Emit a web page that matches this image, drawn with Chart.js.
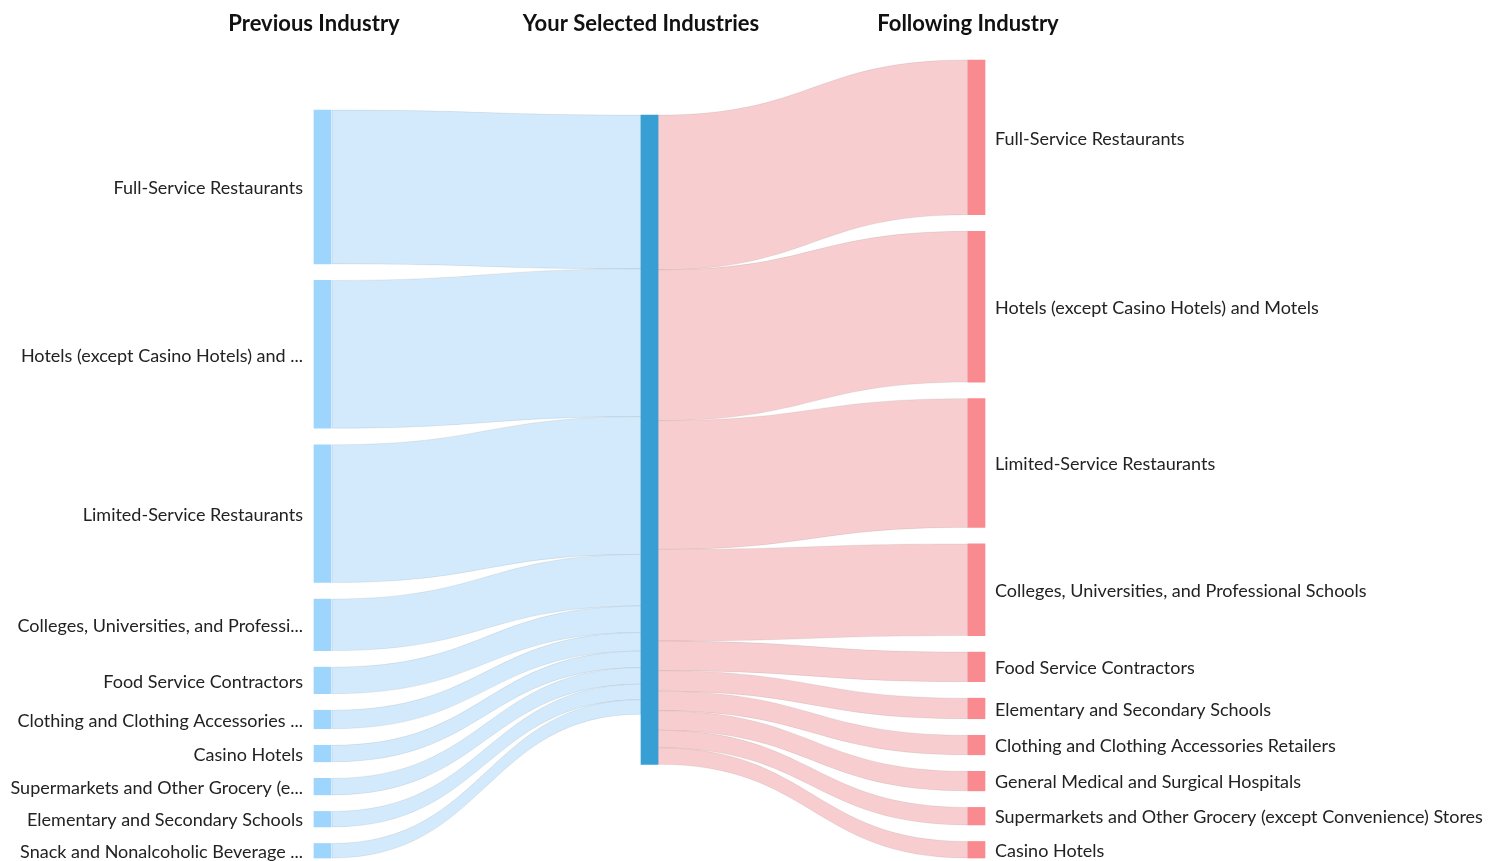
<!DOCTYPE html>
<html>
<head>
<meta charset="utf-8">
<title>Industry flows</title>
<script src="https://cdn.jsdelivr.net/npm/chart.js@4.4.1/dist/chart.umd.min.js"></script>
<style>
  html, body { margin: 0; padding: 0; background: #fff; }
  #wrap { width: 1503px; height: 861px; position: relative; }
</style>
</head>
<body>
<div id="wrap"><canvas id="sankey"></canvas></div>
<script>
// column headings
const columnTitles = ["Previous Industry", "Your Selected Industries", "Following Industry"];

// industries people came from
const prevLabels = [
  "Full-Service Restaurants",
  "Hotels (except Casino Hotels) and Motels",
  "Limited-Service Restaurants",
  "Colleges, Universities, and Professional Schools",
  "Food Service Contractors",
  "Clothing and Clothing Accessories Retailers",
  "Casino Hotels",
  "Supermarkets and Other Grocery (except Convenience) Stores",
  "Elementary and Secondary Schools",
  "Snack and Nonalcoholic Beverage Bars"
];
const prevValues = [153.5, 147.5, 137.5, 51.5, 26.5, 18.5, 16.5, 16.5, 15.5, 14.5];

// industries people went to
const nextLabels = [
  "Full-Service Restaurants",
  "Hotels (except Casino Hotels) and Motels",
  "Limited-Service Restaurants",
  "Colleges, Universities, and Professional Schools",
  "Food Service Contractors",
  "Elementary and Secondary Schools",
  "Clothing and Clothing Accessories Retailers",
  "General Medical and Surgical Hospitals",
  "Supermarkets and Other Grocery (except Convenience) Stores",
  "Casino Hotels"
];
const nextValues = [154.5, 150.5, 128.5, 91.5, 29.5, 20.5, 19.5, 19.5, 17.5, 16.5];

// layout settings
const NODE_GAP = 16.5;   // value units between stacked nodes
const MID_TOP = 55;      // where the selected-industry node starts
const NODE_W = 17;       // node width in px
const LABEL_MAX = 294;   // left labels get cut to this width

const sum = a => a.reduce((s, v) => s + v, 0);
function stackColumn(values, start) {
  let y = start;
  return values.map(v => {
    const seg = [y, y + v];
    y += v + NODE_GAP;
    return seg;
  });
}

const prevSpan = sum(prevValues) + NODE_GAP * (prevValues.length - 1);
const nextSpan = sum(nextValues) + NODE_GAP * (nextValues.length - 1);
const yMax = Math.max(prevSpan, nextSpan);

const prevNodes = stackColumn(prevValues, yMax - prevSpan);
const nextNodes = stackColumn(nextValues, yMax - nextSpan);
const midNode = [MID_TOP, MID_TOP + Math.max(sum(prevValues), sum(nextValues))];

// where each link meets the middle node
function stackOnMiddle(values) {
  let y = MID_TOP;
  return values.map(v => { const seg = [y, y + v]; y += v; return seg; });
}
const midIn = stackOnMiddle(prevValues);
const midOut = stackOnMiddle(nextValues);

// links between columns
const linkPlugin = {
  id: "sankeyLinks",
  beforeDatasetsDraw(chart) {
    const { ctx, scales: { x, y } } = chart;
    const half = NODE_W / 2;

    function band(x0, s0, x1, s1, fill) {
      const xm = (x0 + x1) / 2;
      const t0 = y.getPixelForValue(s0[0]), b0 = y.getPixelForValue(s0[1]);
      const t1 = y.getPixelForValue(s1[0]), b1 = y.getPixelForValue(s1[1]);
      ctx.beginPath();
      ctx.moveTo(x0, t0);
      ctx.bezierCurveTo(xm, t0, xm, t1, x1, t1);
      ctx.lineTo(x1, b1);
      ctx.bezierCurveTo(xm, b1, xm, b0, x0, b0);
      ctx.closePath();
      ctx.fillStyle = fill;
      ctx.fill();
      ctx.strokeStyle = "rgba(0, 0, 0, 0.07)";
      ctx.lineWidth = 1;
      ctx.stroke();
    }

    ctx.save();
    const xl = x.getPixelForValue(0) + half + 1;
    const xm0 = x.getPixelForValue(1) - half;
    const xm1 = x.getPixelForValue(1) + half;
    const xr = x.getPixelForValue(2) - half;
    prevNodes.forEach((seg, i) => band(xl, seg, xm0, midIn[i], "#d2eafc"));
    nextNodes.forEach((seg, i) => band(xm1, midOut[i], xr, seg, "#f8cdcf"));
    ctx.restore();
  }
};

// titles and node labels
const labelPlugin = {
  id: "sankeyLabels",
  afterDatasetsDraw(chart) {
    const { ctx, scales: { x, y } } = chart;
    const half = NODE_W / 2;
    ctx.save();

    ctx.font = "bold 22px Lato";
    ctx.fillStyle = "#111";
    ctx.textAlign = "center";
    ctx.textBaseline = "middle";
    columnTitles.forEach((t, i) => {
      ctx.fillText(t, x.getPixelForValue(i) - half, 24);
    });

    ctx.font = "18px Lato";
    ctx.fillStyle = "#222";
    ctx.textAlign = "right";
    prevLabels.forEach((label, i) => {
      let txt = label;
      if (ctx.measureText(txt).width > LABEL_MAX) {
        while (txt.length && ctx.measureText(txt + "...").width > LABEL_MAX) {
          txt = txt.slice(0, -1);
        }
        txt += "...";
      }
      const cy = y.getPixelForValue((prevNodes[i][0] + prevNodes[i][1]) / 2) + 1.5;
      ctx.fillText(txt, x.getPixelForValue(0) - half - 11, cy);
    });

    ctx.textAlign = "left";
    nextLabels.forEach((label, i) => {
      const cy = y.getPixelForValue((nextNodes[i][0] + nextNodes[i][1]) / 2) + 1.5;
      ctx.fillText(label, x.getPixelForValue(2) + half + 10, cy);
    });
    ctx.restore();
  }
};

document.addEventListener("DOMContentLoaded", function () {
  const nodeOpts = {
    borderWidth: 0,
    grouped: false,
    barThickness: NODE_W,
    maxBarThickness: NODE_W,
    clip: false
  };

  new Chart(document.getElementById("sankey").getContext("2d"), {
    type: "bar",
    data: {
      datasets: [
        Object.assign({ label: columnTitles[0], data: prevNodes.map(s => ({ x: 0, y: s })), backgroundColor: "#9dd5fd" }, nodeOpts),
        Object.assign({ label: columnTitles[1], data: [{ x: 1, y: midNode }], backgroundColor: "#379fd3" }, nodeOpts),
        Object.assign({ label: columnTitles[2], data: nextNodes.map(s => ({ x: 2, y: s })), backgroundColor: "#f88a90" }, nodeOpts)
      ]
    },
    options: {
      responsive: true,
      maintainAspectRatio: false,
      animation: false,
      layout: {
        padding: { left: 159, right: 363, top: 60, bottom: 3 }
      },
      plugins: {
        legend: { display: false },
        tooltip: { enabled: false }
      },
      scales: {
        x: { type: "linear", min: -0.5, max: 2.5, offset: false, display: false },
        y: { type: "linear", min: 0, max: yMax, reverse: true, display: false }
      }
    },
    plugins: [linkPlugin, labelPlugin]
  });
});
</script>
</body>
</html>
